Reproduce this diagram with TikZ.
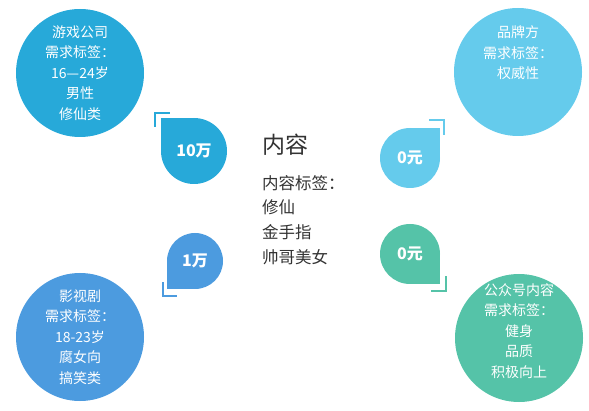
\documentclass[tikz,border=0pt]{standalone}
\usepackage{fontspec}
\setmainfont{Noto Sans CJK SC}
\usetikzlibrary{calc,backgrounds}
\definecolor{gameblue}{HTML}{27A9D9}
\definecolor{brandcyan}{HTML}{65CBEC}
\definecolor{filmblue}{HTML}{4C9BDF}
\definecolor{wechatgreen}{HTML}{55C3A8}
\definecolor{textgray}{HTML}{333333}

\begin{document}
\begin{tikzpicture}[x=1pt,y=1pt,
  bigcircle/.style={circle, minimum size=128pt, inner sep=0pt},
  circletext/.style={text=white, align=center, inner sep=0pt, font=\fontsize{14}{20.5}\selectfont},
  drop/.style={circle, inner sep=0pt, text=white, font=\fontsize{16}{16}\selectfont\bfseries},
  bracket/.style={line width=1.6pt}]
\useasboundingbox (0,0) rectangle (589,410);

% four demand circles
\node[bigcircle, fill=gameblue] (game) at (80,337) {};
\node[circletext] (gametext) at (game) {游戏公司\\需求标签：\\16—24岁\\男性\\修仙类};
\node[bigcircle, fill=brandcyan] (brand) at (518,338) {};
\node[circletext] (brandtext) at ($(brand)+(0,19)$) {品牌方\\需求标签：\\权威性};
\node[bigcircle, fill=filmblue] (film) at (80,73) {};
\node[circletext] (filmtext) at (film) {影视剧\\需求标签：\\18-23岁\\腐女向\\搞笑类};
\node[bigcircle, fill=wechatgreen] (wechat) at (519,72) {};
\node[circletext] (wechattext) at ($(wechat)+(0,7)$) {公众号内容\\需求标签：\\健身\\品质\\积极向上};

% price drops
\node[drop, minimum size=66pt, fill=gameblue] (tenwan) at (194,259) {10万};
\node[drop, minimum size=60pt, fill=brandcyan] (zerobrand) at (410,252) {0元};
\node[drop, minimum size=56pt, fill=filmblue] (onewan) at (195,149) {1万};
\node[drop, minimum size=60pt, fill=wechatgreen] (zerowechat) at (410,156) {0元};
\begin{scope}[on background layer]
\fill[gameblue] (tenwan.center) rectangle (tenwan.west |- tenwan.north);
\fill[brandcyan] (zerobrand.center) rectangle (zerobrand.east |- zerobrand.north);
\fill[filmblue] (onewan.center) rectangle (onewan.west |- onewan.south);
\fill[wechatgreen] (zerowechat.center) rectangle (zerowechat.east |- zerowechat.south);
\end{scope}

% corner marks
\draw[bracket, gameblue] ($(tenwan.west |- tenwan.north)+(-6,-9)$) -- ++(0,14) -- ++(15,0);
\draw[bracket, brandcyan] ($(zerobrand.east |- zerobrand.north)+(-11,8)$) -- ++(15,0) -- ++(0,-15);
\draw[bracket, filmblue] ($(onewan.west |- onewan.south)+(-4,7)$) -- ++(0,-14) -- ++(14,0);
\draw[bracket, wechatgreen] ($(zerowechat.east |- zerowechat.south)+(6,8)$) -- ++(0,-15) -- ++(-15,0);

% content in the middle
\node[anchor=west, inner sep=0pt, text=textgray, font=\fontsize{23}{23}\selectfont] (title) at (262,265) {内容};
\node[anchor=west, inner sep=0pt, align=left, text=textgray, font=\fontsize{16.5}{24.7}\selectfont] (tags) at (262,190) {内容标签：\\修仙\\金手指\\帅哥美女};
\end{tikzpicture}
\end{document}
